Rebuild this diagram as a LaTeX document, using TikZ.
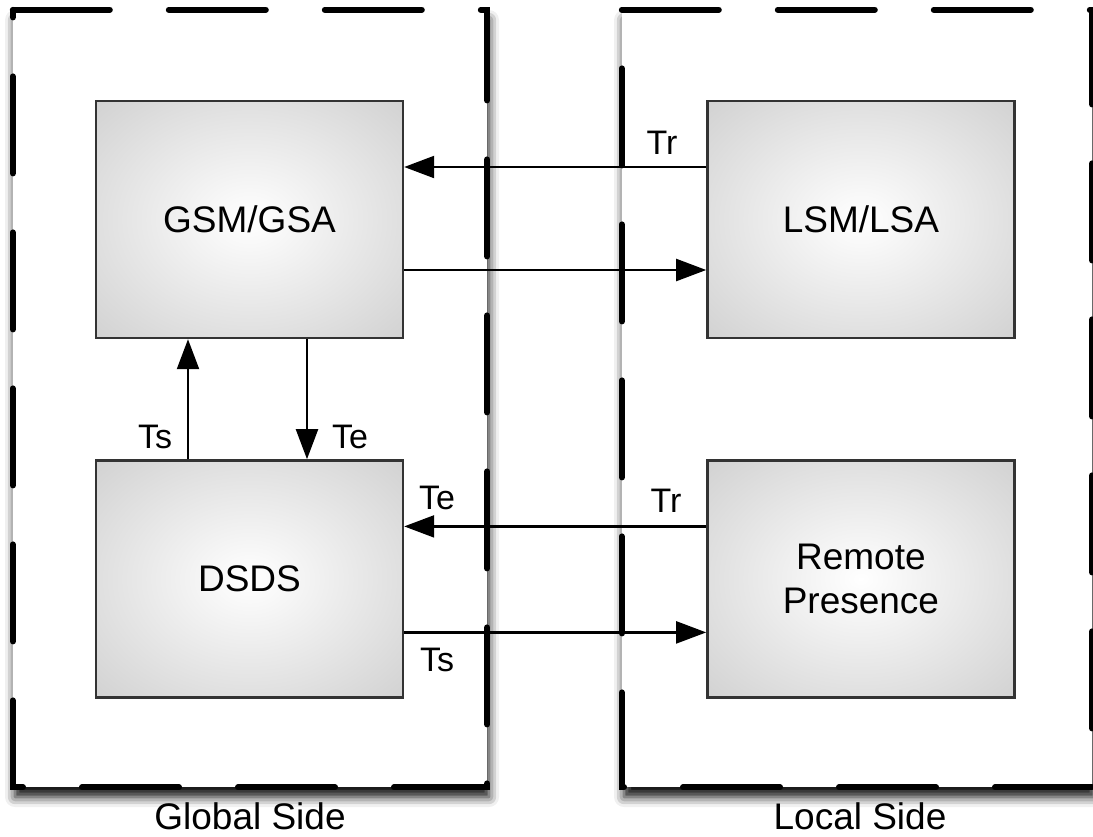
\documentclass[tikz,border=0pt]{standalone}
\usepackage{fontspec}
\setmainfont{Liberation Sans}
\usetikzlibrary{arrows.meta, positioning, shadows.blur}
\pgfdeclareradialshading{boxfill}{\pgfpoint{0bp}{0bp}}{color(0bp)=(white); color(6bp)=(white!97!black); color(50bp)=(black!25)}

\begin{document}
\begin{tikzpicture}[
        x=1pt, y=1pt,
        font=\fontsize{37}{44}\selectfont,
        node distance=120pt and 302pt, % controls spacing between boxes
        side/.style={fill=white, minimum height=777pt, inner sep=0pt,
          blur shadow={shadow xshift=2pt, shadow yshift=-10pt, shadow blur radius=10pt, shadow opacity=95}},
        border/.style={line width=6pt, line cap=round, dash pattern=on 97pt off 59pt},
        box/.style={draw=black!80, line width=2.4pt, minimum width=307pt, minimum height=237pt,
          inner sep=0pt, align=center, shading=boxfill},
        link/.style={-{Triangle[length=30pt, width=22pt]}, line width=2.2pt}, % arrow style
        tag/.style={font=\fontsize{34}{40}\selectfont}
      ]
      \useasboundingbox (0,0) rectangle (1093,-836);

      % Sides
      \node (gside) [side, minimum width=474pt] at (250,-398.5) {};
      \node (lside) [side, minimum width=470pt] at (857,-398.5) {};
      \draw[border] (gside.north west) -- (gside.north east) -- (gside.south east) -- (gside.south west) -- cycle;
      \draw[border] (lside.north west) -- (lside.north east) -- (lside.south east) -- (lside.south west) -- cycle;
      \node (gname) at (250,-816) {Global Side};
      \node (lname) at (860,-816) {Local Side};

      % Nodes
      \node (gsm) [box] at (249.5,-219.5) {GSM/GSA};
      \node (lsm) [box, right=of gsm] {LSM/LSA};
      \node (dsds) [box, below=of gsm] {DSDS};
      \node (remote) [box, below=of lsm] {Remote\\[0pt]Presence};

      % Arrows
      \draw[link] ([yshift=52.5pt]lsm.west) -- ([yshift=52.5pt]gsm.east);
      \draw[link] ([yshift=-50.5pt]gsm.east) -- ([yshift=-50.5pt]lsm.west);
      \draw[link] ([xshift=-61.5pt]dsds.north) -- ([xshift=-61.5pt]gsm.south);
      \draw[link] ([xshift=57.5pt]gsm.south) -- ([xshift=57.5pt]dsds.north);
      \draw[link] ([yshift=52.5pt]remote.west) -- ([yshift=52.5pt]dsds.east);
      \draw[link] ([yshift=-53.5pt]dsds.east) -- ([yshift=-53.5pt]remote.west);

      % Labels
      \node (tr1) [tag] at (662,-143) {Tr};
      \node (ts1) [tag] at (155,-437) {Ts};
      \node (te1) [tag] at (350,-437) {Te};
      \node (te2) [tag] at (437,-498) {Te};
      \node (tr2) [tag] at (666,-501) {Tr};
      \node (ts2) [tag] at (437,-660) {Ts};
    \end{tikzpicture}
\end{document}
